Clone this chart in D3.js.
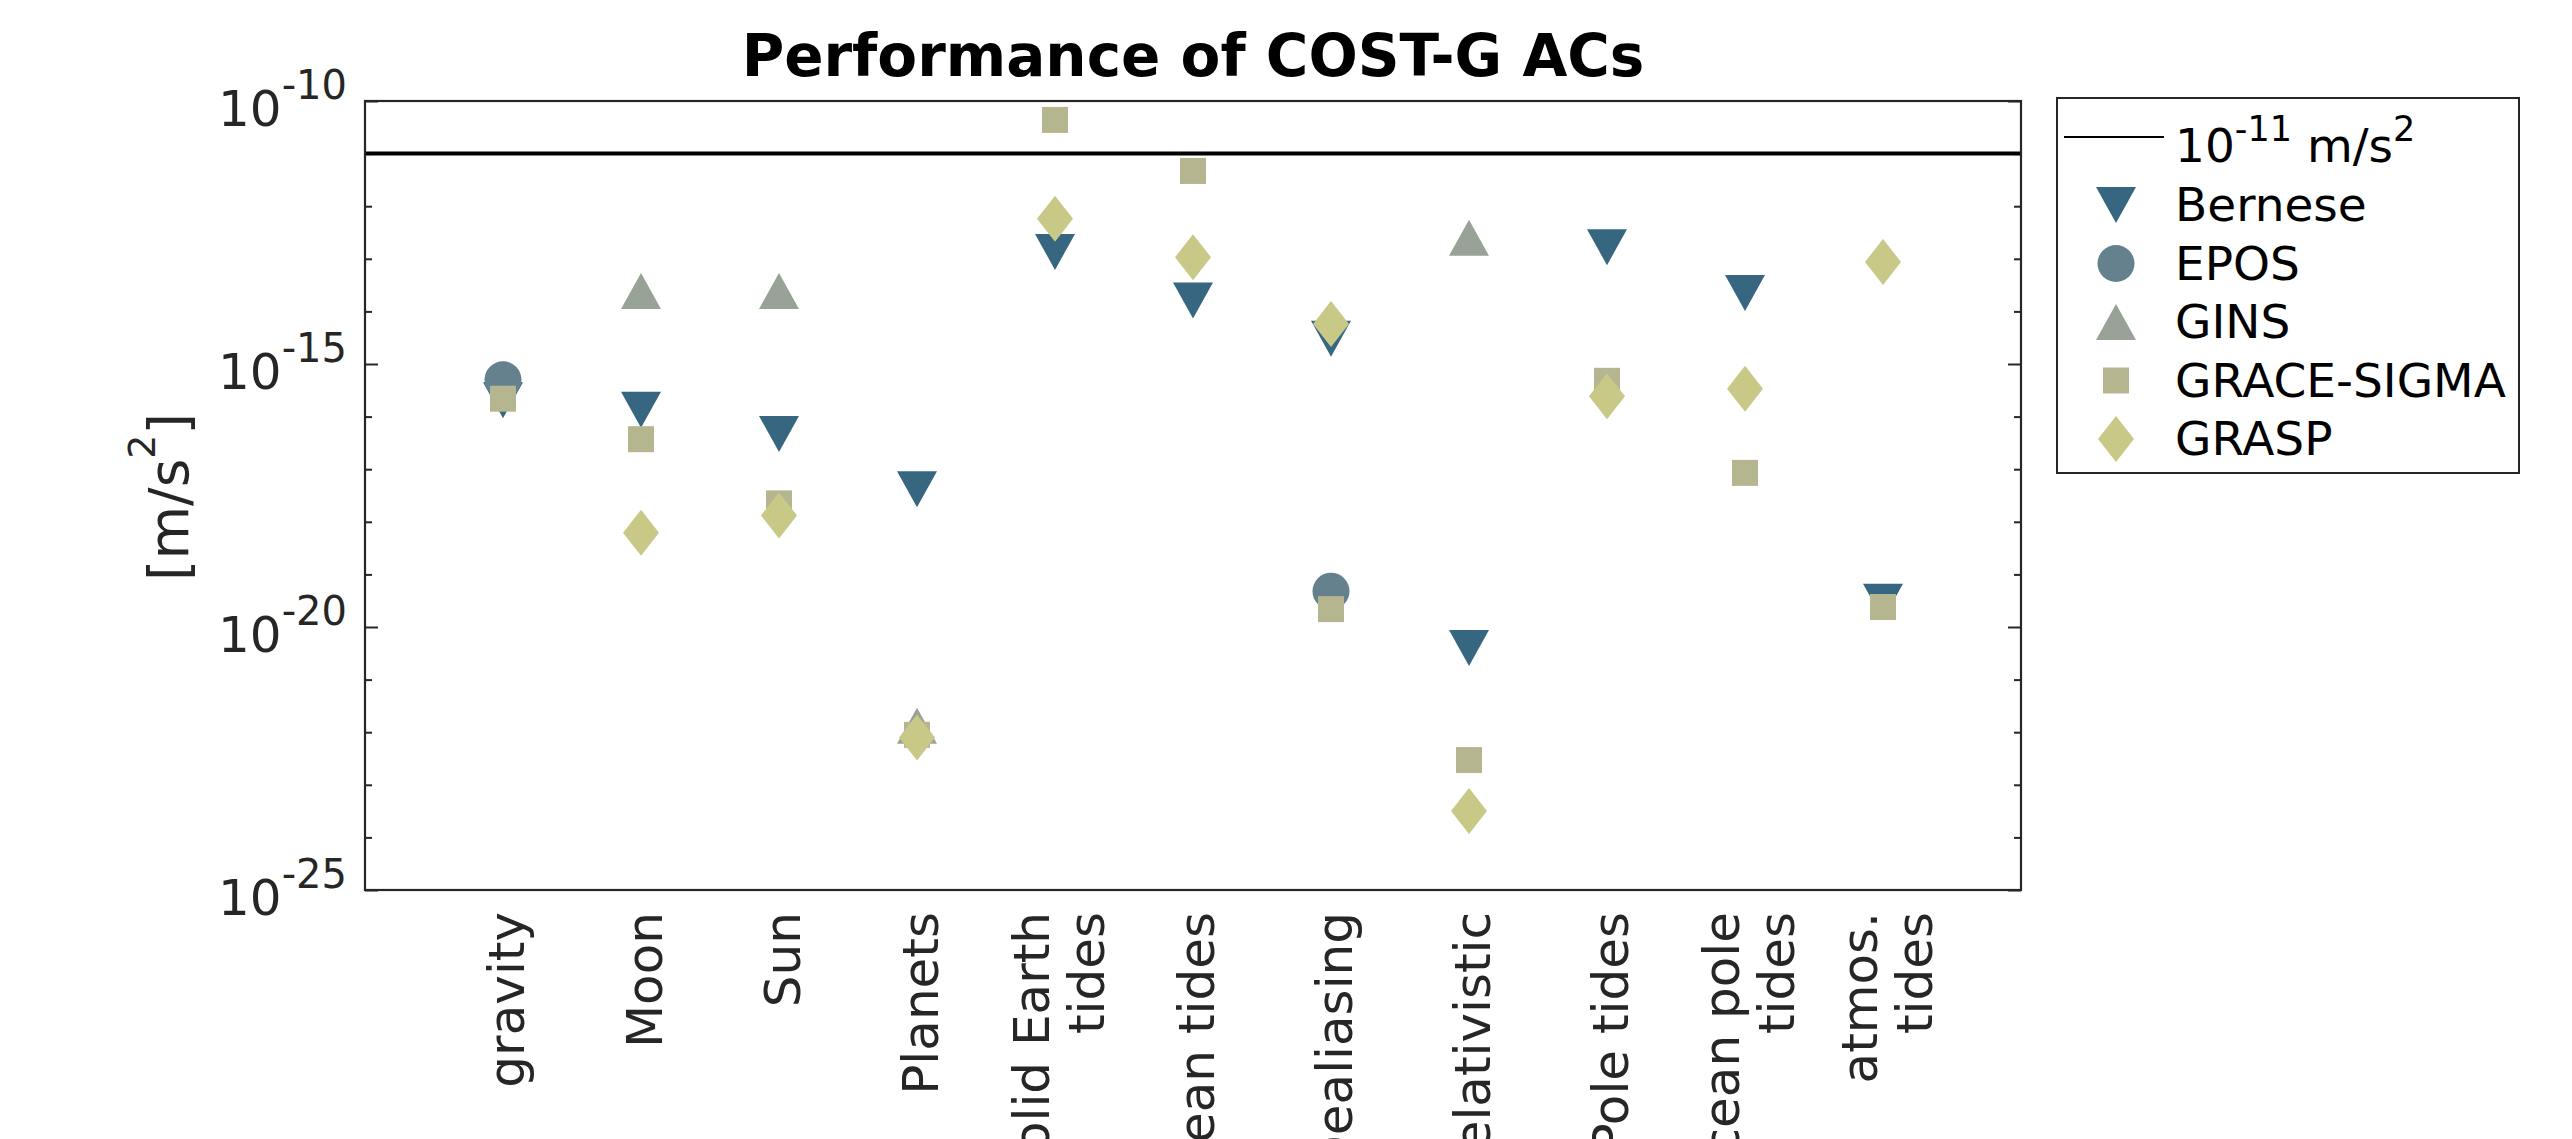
<!DOCTYPE html>
<html>
<head>
<meta charset="utf-8">
<script src="https://cdn.jsdelivr.net/npm/d3@7"></script>
<style>
  body { margin: 0; background: #fff; }
  text { font-family: 'DejaVu Sans', sans-serif; }
</style>
</head>
<body>
<svg id="chart" width="2572" height="1139"></svg>
<script>
// categories along the x axis ('\n' = line break in the label)
const categories = ['gravity', 'Moon', 'Sun', 'Planets', 'Solid Earth\ntides', 'Ocean tides',
    'Dealiasing', 'Relativistic', 'Pole tides', 'Ocean pole\ntides', 'atmos.\ntides']

// values in m/s^2 per analysis centre (null = no value)
const bernese = [2.04e-16, 1.35e-16, 4.68e-17, 4.17e-18, 1.35e-13, 1.62e-14, 3.02e-15, 3.98e-21, 1.66e-13, 2.24e-14, 3.02e-20]
const epos = [5.01e-16, null, null, null, null, null, 4.79e-20, null, null, null, null]
const gins = [null, 2.45e-14, 2.45e-14, 1.32e-22, null, null, null, 2.51e-13, null, null, null]
const graceSigma = [2.19e-16, 3.72e-17, 2.24e-18, 8.91e-23, 4.37e-11, 4.68e-12, 2.19e-20, 2.95e-23, 4.79e-16, 8.51e-18, 2.40e-20]
const grasp = [null, 6.17e-19, 1.32e-18, 7.94e-23, 5.75e-13, 1.07e-13, 5.75e-15, 3.16e-24, 2.45e-16, 3.39e-16, 8.71e-14]

const threshold = 1e-11
const yDomain = [1e-25, 1e-10]
const yLabelExps = [-10, -15, -20, -25]

const seriesNames = ['Bernese', 'EPOS', 'GINS', 'GRACE-SIGMA', 'GRASP']
const seriesValues = [bernese, epos, gins, graceSigma, grasp]
const seriesColors = ['#366680', '#65818e', '#98a297', '#b5b590', '#c8c987']
const seriesShapes = ['triDown', 'circle', 'triUp', 'square', 'diamond']

function shapePath(type) {
    switch (type) {
        case 'triDown': return 'M-20,-18L20,-18L0,18Z'
        case 'triUp': return 'M0,-18L20,18L-20,18Z'
        case 'square': return 'M-13,-13H13V13H-13Z'
        case 'diamond': return 'M0,-23L18,0L0,23L-18,0Z'
        default: return d3.symbol(d3.symbolCircle, Math.PI * 18.5 * 18.5)()
    }
}

function main() {
    let svg = d3.select('#chart'),
        left = 365, right = 2021, top = 101, bottom = 890,
        axisColor = '#262626'

    let xScale = d3.scalePoint().domain(categories).range([left, right]).padding(1),
        yScale = d3.scaleLog().domain(yDomain).range([bottom, top])

    svg.append('rect').attr('width', 2572).attr('height', 1139).attr('fill', '#fff')

    // title
    svg.append('text')
        .attr('x', (left + right) / 2)
        .attr('y', 76)
        .attr('text-anchor', 'middle')
        .attr('font-size', 58)
        .attr('font-weight', 'bold')
        .attr('fill', '#000')
        .text('Performance of COST-G ACs')

    // y ticks, inward on both sides
    let decades = d3.range(-25, -9).map(e => Math.pow(10, e))
    let isMajor = d => yLabelExps.includes(Math.round(Math.log10(d)))

    let leftAxis = svg.append('g')
        .attr('transform', 'translate(' + left + ', 0)')
        .call(d3.axisLeft(yScale).tickValues(decades).tickSize(-7).tickFormat(''))
    let rightAxis = svg.append('g')
        .attr('transform', 'translate(' + right + ', 0)')
        .call(d3.axisRight(yScale).tickValues(decades).tickSize(-7).tickFormat(''))
    ;[leftAxis, rightAxis].forEach((ax, i) => {
        ax.select('.domain').remove()
        ax.selectAll('.tick line')
            .attr('stroke', axisColor)
            .attr('stroke-width', 2)
            .attr('x2', d => (isMajor(d) ? 13 : 7) * (i === 0 ? 1 : -1))
    })

    // y tick labels 10^x
    yLabelExps.forEach(e => {
        let t = svg.append('text')
            .attr('x', 347)
            .attr('y', yScale(Math.pow(10, e)) + 25)
            .attr('text-anchor', 'end')
            .attr('fill', axisColor)
            .attr('font-size', 50)
        t.append('tspan').text('10')
        t.append('tspan').attr('font-size', 40).attr('dy', -27).text('-' + Math.abs(e))
    })

    // y axis label
    let yl = svg.append('text')
        .attr('transform', 'translate(188, 497) rotate(-90)')
        .attr('text-anchor', 'middle')
        .attr('fill', axisColor)
        .attr('font-size', 55)
    yl.append('tspan').text('[m/s')
    yl.append('tspan').attr('font-size', 38).attr('dy', -33).text('2')
    yl.append('tspan').attr('dy', 33).text(']')

    // x category labels, rotated
    categories.forEach(c => {
        let lines = c.split('\n')
        let offsets = lines.length === 1 ? [20.5] : [-6, 49]
        let t = svg.append('text')
            .attr('transform', 'translate(' + xScale(c) + ', 912) rotate(-90)')
            .attr('text-anchor', 'end')
            .attr('fill', axisColor)
            .attr('font-size', 50)
        lines.forEach((l, i) => {
            t.append('tspan').attr('x', 0).attr('y', offsets[i]).text(l)
        })
    })

    // threshold line
    svg.append('line')
        .attr('x1', left).attr('x2', right)
        .attr('y1', yScale(threshold)).attr('y2', yScale(threshold))
        .attr('stroke', '#000')
        .attr('stroke-width', 4)

    // markers
    seriesValues.forEach((vals, s) => {
        let pts = categories.map((c, i) => ({cat: c, v: vals[i]})).filter(d => d.v !== null)
        svg.append('g')
            .selectAll('path')
            .data(pts)
            .enter()
            .append('path')
            .attr('d', shapePath(seriesShapes[s]))
            .attr('transform', d => 'translate(' + xScale(d.cat) + ',' + yScale(d.v) + ')')
            .attr('fill', seriesColors[s])
    })

    // axes box
    svg.append('rect')
        .attr('x', left).attr('y', top)
        .attr('width', right - left).attr('height', bottom - top)
        .attr('fill', 'none')
        .attr('stroke', axisColor)
        .attr('stroke-width', 2.2)

    // legend
    let lg = svg.append('g')
    lg.append('rect')
        .attr('x', 2057).attr('y', 98)
        .attr('width', 462).attr('height', 375)
        .attr('fill', '#fff')
        .attr('stroke', axisColor)
        .attr('stroke-width', 2)
    lg.append('line')
        .attr('x1', 2064).attr('x2', 2164)
        .attr('y1', 137).attr('y2', 137)
        .attr('stroke', '#000')
        .attr('stroke-width', 2)
    let lt = lg.append('text')
        .attr('x', 2175).attr('y', 162)
        .attr('font-size', 47)
        .attr('fill', '#000')
    lt.append('tspan').text('10')
    lt.append('tspan').attr('font-size', 35).attr('dy', -21).text('-11')
    lt.append('tspan').attr('dy', 21).text(' m/s')
    lt.append('tspan').attr('font-size', 35).attr('dy', -21).text('2')

    seriesNames.forEach((name, s) => {
        let cy = 205 + s * 58.5
        lg.append('path')
            .attr('d', shapePath(seriesShapes[s]))
            .attr('transform', 'translate(2116,' + cy + ')')
            .attr('fill', seriesColors[s])
        lg.append('text')
            .attr('x', 2175).attr('y', cy + 16)
            .attr('font-size', 47)
            .attr('fill', '#000')
            .text(name)
    })
}

main()
</script>
</body>
</html>
